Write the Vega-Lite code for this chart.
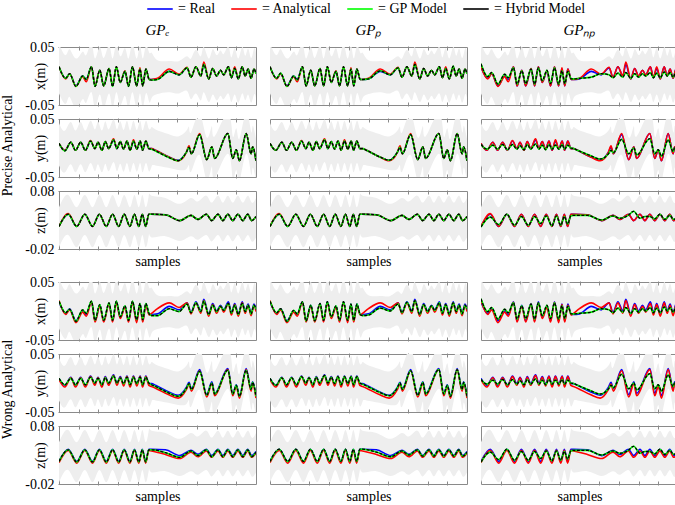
{
"$schema":"https://vega.github.io/schema/vega-lite/v6.json",
"background":"white",
"padding":{"left":0,"top":-5,"right":0,"bottom":0},
"datasets":{
"x":[
{"s":0,"R":0.016,"L":-0.03,"U":0.055,"a":0.016,"b":0.018,"e":0.016,"p":0.016,"q":0.021,"f":0.017,"g":0.017},
{"s":3.4,"R":-0.004,"L":-0.048,"U":0.036,"a":-0.005,"b":-0.006,"e":-0.004,"p":-0.004,"q":-0.001,"f":-0.003,"g":-0.003},
{"s":5.4,"R":0.004,"L":-0.036,"U":0.046,"a":0.004,"b":0.002,"e":0.004,"p":0.005,"q":0.006,"f":0.003,"g":0.004},
{"s":8.6,"R":-0.017,"L":-0.055,"U":0.03,"a":-0.018,"b":-0.02,"e":-0.018,"p":-0.018,"q":-0.014,"f":-0.018,"g":-0.018},
{"s":12,"R":0.0,"L":-0.04,"U":0.042,"a":-0.001,"b":-0.002,"e":0.0,"p":0.0,"q":0.003,"f":0.002,"g":0.001},
{"s":13.8,"R":-0.006,"L":-0.046,"U":0.036,"a":-0.01,"b":-0.009,"e":-0.006,"p":-0.007,"q":-0.003,"f":-0.004,"g":-0.005},
{"s":16.5,"R":0.016,"L":-0.028,"U":0.055,"a":0.016,"b":0.015,"e":0.016,"p":0.016,"q":0.014,"f":0.017,"g":0.016},
{"s":18.3,"R":-0.017,"L":-0.055,"U":0.03,"a":-0.017,"b":-0.019,"e":-0.018,"p":-0.017,"q":-0.014,"f":-0.016,"g":-0.017},
{"s":20.7,"R":0.01,"L":-0.032,"U":0.05,"a":0.01,"b":0.008,"e":0.01,"p":0.01,"q":0.009,"f":0.011,"g":0.01},
{"s":22.7,"R":-0.017,"L":-0.055,"U":0.031,"a":-0.017,"b":-0.019,"e":-0.017,"p":-0.017,"q":-0.013,"f":-0.016,"g":-0.017},
{"s":25.4,"R":0.013,"L":-0.03,"U":0.053,"a":0.013,"b":0.012,"e":0.013,"p":0.013,"q":0.012,"f":0.014,"g":0.013},
{"s":27.2,"R":-0.017,"L":-0.055,"U":0.03,"a":-0.017,"b":-0.019,"e":-0.018,"p":-0.017,"q":-0.014,"f":-0.016,"g":-0.016},
{"s":29.1,"R":0.016,"L":-0.028,"U":0.055,"a":0.016,"b":0.014,"e":0.016,"p":0.016,"q":0.014,"f":0.017,"g":0.016},
{"s":31.1,"R":-0.011,"L":-0.05,"U":0.034,"a":-0.011,"b":-0.013,"e":-0.011,"p":-0.011,"q":-0.008,"f":-0.01,"g":-0.01},
{"s":33.5,"R":0.008,"L":-0.034,"U":0.048,"a":0.009,"b":0.006,"e":0.008,"p":0.008,"q":0.01,"f":0.009,"g":0.009},
{"s":35.3,"R":-0.017,"L":-0.055,"U":0.03,"a":-0.017,"b":-0.019,"e":-0.018,"p":-0.017,"q":-0.013,"f":-0.016,"g":-0.016},
{"s":37.3,"R":0.016,"L":-0.028,"U":0.055,"a":0.016,"b":0.015,"e":0.016,"p":0.016,"q":0.014,"f":0.017,"g":0.016},
{"s":39.4,"R":-0.017,"L":-0.055,"U":0.03,"a":-0.017,"b":-0.02,"e":-0.017,"p":-0.017,"q":-0.014,"f":-0.015,"g":-0.016},
{"s":41.1,"R":0.012,"L":-0.03,"U":0.052,"a":0.014,"b":0.011,"e":0.012,"p":0.012,"q":0.009,"f":0.013,"g":0.012},
{"s":42.5,"R":-0.017,"L":-0.055,"U":0.03,"a":-0.017,"b":-0.019,"e":-0.017,"p":-0.017,"q":-0.013,"f":-0.015,"g":-0.016},
{"s":44.1,"R":0.012,"L":-0.03,"U":0.052,"a":0.012,"b":0.01,"e":0.012,"p":0.012,"q":0.008,"f":0.013,"g":0.012},
{"s":45.8,"R":-0.006,"L":-0.045,"U":0.04,"a":-0.006,"b":-0.007,"e":-0.006,"p":-0.006,"q":-0.005,"f":-0.005,"g":-0.006},
{"s":47,"R":-0.006,"L":-0.038,"U":0.04,"a":-0.006,"b":-0.004,"e":-0.007,"p":-0.006,"q":-0.005,"f":-0.008,"g":-0.008},
{"s":50,"R":-0.005,"L":-0.031,"U":0.027,"a":-0.004,"b":0.004,"e":-0.006,"p":-0.005,"q":-0.004,"f":-0.008,"g":-0.007},
{"s":56,"R":0.008,"L":-0.028,"U":0.026,"a":0.012,"b":0.014,"e":0.008,"p":0.009,"q":-0.002,"f":0.004,"g":0.005},
{"s":61,"R":0.002,"L":-0.03,"U":0.026,"a":0.003,"b":0.006,"e":0.002,"p":0.002,"q":0.004,"f":-0.001,"g":0.0},
{"s":65,"R":0.014,"L":-0.026,"U":0.034,"a":0.015,"b":0.014,"e":0.014,"p":0.014,"q":0.002,"f":0.012,"g":0.012},
{"s":67,"R":-0.002,"L":-0.04,"U":0.03,"a":-0.002,"b":-0.005,"e":-0.002,"p":-0.002,"q":-0.003,"f":-0.003,"g":-0.003},
{"s":69.5,"R":0.016,"L":-0.03,"U":0.045,"a":0.016,"b":0.014,"e":0.016,"p":0.016,"q":0.005,"f":0.014,"g":0.015},
{"s":72,"R":0.0,"L":-0.042,"U":0.034,"a":0.0,"b":-0.004,"e":0.0,"p":0.0,"q":-0.002,"f":-0.001,"g":-0.001},
{"s":73.5,"R":0.02,"L":-0.028,"U":0.05,"a":0.024,"b":0.018,"e":0.02,"p":0.02,"q":0.006,"f":0.017,"g":0.018},
{"s":76,"R":-0.005,"L":-0.045,"U":0.03,"a":-0.005,"b":-0.009,"e":-0.005,"p":-0.005,"q":-0.004,"f":-0.006,"g":-0.006},
{"s":78,"R":0.013,"L":-0.032,"U":0.046,"a":0.013,"b":0.011,"e":0.013,"p":0.013,"q":0.004,"f":0.01,"g":0.011},
{"s":80,"R":0.0,"L":-0.042,"U":0.036,"a":0.0,"b":-0.004,"e":0.0,"p":0.0,"q":-0.002,"f":-0.001,"g":-0.001},
{"s":82,"R":0.01,"L":-0.034,"U":0.044,"a":0.01,"b":0.008,"e":0.01,"p":0.01,"q":0.004,"f":0.008,"g":0.009},
{"s":83.6,"R":0.002,"L":-0.04,"U":0.038,"a":0.002,"b":-0.002,"e":0.002,"p":0.002,"q":0.0,"f":0.001,"g":0.001},
{"s":86,"R":0.016,"L":-0.03,"U":0.05,"a":0.016,"b":0.013,"e":0.016,"p":0.016,"q":0.006,"f":0.013,"g":0.014},
{"s":87.5,"R":-0.003,"L":-0.045,"U":0.032,"a":-0.003,"b":-0.007,"e":-0.003,"p":-0.003,"q":-0.003,"f":-0.004,"g":-0.004},
{"s":89.2,"R":0.013,"L":-0.032,"U":0.048,"a":0.016,"b":0.011,"e":0.013,"p":0.013,"q":0.005,"f":0.01,"g":0.011},
{"s":91,"R":-0.005,"L":-0.046,"U":0.03,"a":-0.005,"b":-0.009,"e":-0.005,"p":-0.005,"q":-0.003,"f":-0.006,"g":-0.006},
{"s":93,"R":0.016,"L":-0.03,"U":0.05,"a":0.016,"b":0.014,"e":0.016,"p":0.017,"q":0.007,"f":0.013,"g":0.014},
{"s":94.5,"R":0.0,"L":-0.042,"U":0.035,"a":0.0,"b":-0.004,"e":0.0,"p":0.0,"q":0.0,"f":-0.001,"g":-0.001},
{"s":96,"R":0.012,"L":-0.032,"U":0.047,"a":0.012,"b":0.01,"e":0.012,"p":0.012,"q":0.006,"f":0.01,"g":0.01},
{"s":97.5,"R":-0.004,"L":-0.046,"U":0.031,"a":-0.004,"b":-0.008,"e":-0.004,"p":-0.004,"q":-0.002,"f":-0.005,"g":-0.005},
{"s":99,"R":0.012,"L":-0.032,"U":0.047,"a":0.012,"b":0.01,"e":0.012,"p":0.012,"q":0.006,"f":0.01,"g":0.01},
{"s":100,"R":0.004,"L":-0.038,"U":0.04,"a":0.004,"b":-0.001,"e":0.004,"p":0.004,"q":0.002,"f":0.003,"g":0.003}
],
"y":[
{"s":0,"R":0.008,"L":-0.03,"U":0.043,"a":0.008,"b":0.006,"e":0.008,"p":0.008,"q":0.006,"f":0.008,"g":0.008},
{"s":3,"R":-0.004,"L":-0.042,"U":0.03,"a":-0.004,"b":-0.007,"e":-0.005,"p":-0.004,"q":-0.002,"f":-0.003,"g":-0.004},
{"s":6,"R":0.01,"L":-0.028,"U":0.045,"a":0.01,"b":0.009,"e":0.01,"p":0.01,"q":0.005,"f":0.008,"g":0.009},
{"s":8.4,"R":-0.004,"L":-0.042,"U":0.03,"a":-0.004,"b":-0.007,"e":-0.004,"p":-0.004,"q":-0.002,"f":-0.003,"g":-0.003},
{"s":11,"R":0.01,"L":-0.028,"U":0.045,"a":0.01,"b":0.009,"e":0.01,"p":0.01,"q":0.006,"f":0.008,"g":0.009},
{"s":13.4,"R":-0.004,"L":-0.042,"U":0.03,"a":-0.004,"b":-0.007,"e":-0.004,"p":-0.004,"q":-0.003,"f":-0.003,"g":-0.003},
{"s":16,"R":0.012,"L":-0.026,"U":0.047,"a":0.013,"b":0.011,"e":0.012,"p":0.012,"q":0.006,"f":0.01,"g":0.011},
{"s":18.2,"R":-0.001,"L":-0.04,"U":0.032,"a":-0.001,"b":-0.004,"e":-0.001,"p":-0.001,"q":-0.002,"f":0.0,"g":0.0},
{"s":19.8,"R":0.01,"L":-0.028,"U":0.045,"a":0.01,"b":0.009,"e":0.01,"p":0.01,"q":0.004,"f":0.008,"g":0.009},
{"s":21.8,"R":-0.004,"L":-0.042,"U":0.03,"a":-0.004,"b":-0.007,"e":-0.004,"p":-0.004,"q":-0.003,"f":-0.003,"g":-0.003},
{"s":23.5,"R":0.011,"L":-0.027,"U":0.046,"a":0.011,"b":0.01,"e":0.011,"p":0.011,"q":0.006,"f":0.009,"g":0.01},
{"s":25.2,"R":-0.001,"L":-0.04,"U":0.032,"a":-0.001,"b":-0.004,"e":-0.001,"p":-0.001,"q":-0.002,"f":0.0,"g":0.0},
{"s":27.7,"R":0.014,"L":-0.024,"U":0.049,"a":0.016,"b":0.013,"e":0.014,"p":0.014,"q":0.007,"f":0.012,"g":0.013},
{"s":29.4,"R":-0.001,"L":-0.04,"U":0.032,"a":-0.001,"b":-0.004,"e":-0.001,"p":-0.001,"q":-0.002,"f":0.0,"g":0.0},
{"s":31.1,"R":0.011,"L":-0.027,"U":0.046,"a":0.011,"b":0.01,"e":0.011,"p":0.011,"q":0.005,"f":0.009,"g":0.01},
{"s":32.8,"R":-0.002,"L":-0.041,"U":0.031,"a":-0.002,"b":-0.005,"e":-0.002,"p":-0.002,"q":-0.003,"f":-0.001,"g":-0.001},
{"s":34.5,"R":0.012,"L":-0.026,"U":0.047,"a":0.012,"b":0.011,"e":0.012,"p":0.012,"q":0.006,"f":0.01,"g":0.011},
{"s":36.1,"R":-0.004,"L":-0.042,"U":0.03,"a":-0.004,"b":-0.007,"e":-0.004,"p":-0.004,"q":-0.002,"f":-0.003,"g":-0.003},
{"s":37.8,"R":0.012,"L":-0.026,"U":0.047,"a":0.014,"b":0.011,"e":0.012,"p":0.012,"q":0.005,"f":0.01,"g":0.011},
{"s":39.5,"R":-0.002,"L":-0.041,"U":0.031,"a":-0.002,"b":-0.005,"e":-0.002,"p":-0.002,"q":-0.002,"f":-0.001,"g":-0.001},
{"s":41.2,"R":0.012,"L":-0.026,"U":0.047,"a":0.012,"b":0.011,"e":0.012,"p":0.012,"q":0.006,"f":0.01,"g":0.011},
{"s":42.4,"R":-0.004,"L":-0.042,"U":0.03,"a":-0.004,"b":-0.007,"e":-0.004,"p":-0.004,"q":-0.002,"f":-0.003,"g":-0.003},
{"s":44.1,"R":0.012,"L":-0.026,"U":0.047,"a":0.012,"b":0.011,"e":0.012,"p":0.012,"q":0.005,"f":0.01,"g":0.011},
{"s":45.6,"R":-0.001,"L":-0.04,"U":0.033,"a":-0.001,"b":-0.004,"e":-0.001,"p":-0.001,"q":0.0,"f":0.0,"g":0.0},
{"s":47,"R":-0.001,"L":-0.032,"U":0.036,"a":-0.001,"b":-0.006,"e":-0.002,"p":-0.001,"q":-0.001,"f":-0.003,"g":-0.002},
{"s":49,"R":-0.004,"L":-0.03,"U":0.032,"a":-0.004,"b":-0.009,"e":-0.005,"p":-0.004,"q":-0.004,"f":-0.006,"g":-0.005},
{"s":55.5,"R":-0.015,"L":-0.034,"U":0.024,"a":-0.015,"b":-0.02,"e":-0.016,"p":-0.015,"q":-0.013,"f":-0.017,"g":-0.016},
{"s":60.5,"R":-0.021,"L":-0.038,"U":0.02,"a":-0.022,"b":-0.026,"e":-0.022,"p":-0.021,"q":-0.019,"f":-0.023,"g":-0.022},
{"s":64.7,"R":-0.007,"L":-0.036,"U":0.03,"a":-0.007,"b":-0.011,"e":-0.007,"p":-0.007,"q":-0.01,"f":-0.009,"g":-0.008},
{"s":66,"R":0.001,"L":-0.03,"U":0.036,"a":0.004,"b":-0.002,"e":0.001,"p":0.001,"q":-0.004,"f":-0.001,"g":0.0},
{"s":67.2,"R":-0.01,"L":-0.04,"U":0.028,"a":-0.01,"b":-0.014,"e":-0.01,"p":-0.01,"q":-0.008,"f":-0.011,"g":-0.011},
{"s":71.4,"R":0.023,"L":-0.012,"U":0.058,"a":0.025,"b":0.021,"e":0.023,"p":0.023,"q":0.015,"f":0.02,"g":0.021},
{"s":75,"R":-0.02,"L":-0.055,"U":0.018,"a":-0.02,"b":-0.024,"e":-0.02,"p":-0.02,"q":-0.01,"f":-0.021,"g":-0.021},
{"s":77.6,"R":0.002,"L":-0.032,"U":0.038,"a":0.002,"b":-0.001,"e":0.002,"p":0.002,"q":0.0,"f":0.0,"g":0.001},
{"s":79,"R":-0.018,"L":-0.052,"U":0.02,"a":-0.018,"b":-0.022,"e":-0.018,"p":-0.018,"q":-0.012,"f":-0.019,"g":-0.019},
{"s":85.7,"R":0.025,"L":-0.01,"U":0.06,"a":0.025,"b":0.023,"e":0.025,"p":0.025,"q":0.016,"f":0.022,"g":0.023},
{"s":88.2,"R":-0.018,"L":-0.053,"U":0.02,"a":-0.018,"b":-0.022,"e":-0.018,"p":-0.018,"q":-0.01,"f":-0.019,"g":-0.019},
{"s":90,"R":-0.003,"L":-0.038,"U":0.034,"a":-0.003,"b":-0.006,"e":-0.003,"p":-0.003,"q":-0.003,"f":-0.004,"g":-0.004},
{"s":91.6,"R":-0.022,"L":-0.057,"U":0.016,"a":-0.022,"b":-0.026,"e":-0.022,"p":-0.022,"q":-0.014,"f":-0.023,"g":-0.023},
{"s":95,"R":0.025,"L":-0.01,"U":0.06,"a":0.025,"b":0.023,"e":0.025,"p":0.025,"q":0.014,"f":0.022,"g":0.023},
{"s":97.5,"R":-0.01,"L":-0.045,"U":0.028,"a":-0.01,"b":-0.014,"e":-0.01,"p":-0.01,"q":-0.006,"f":-0.011,"g":-0.011},
{"s":98.3,"R":0.002,"L":-0.034,"U":0.038,"a":0.002,"b":-0.001,"e":0.002,"p":0.002,"q":0.0,"f":0.001,"g":0.001},
{"s":100,"R":-0.022,"L":-0.057,"U":0.016,"a":-0.022,"b":-0.026,"e":-0.022,"p":-0.022,"q":-0.015,"f":-0.023,"g":-0.023}
],
"z":[
{"s":0,"R":0.019,"L":-0.017,"U":0.052,"a":0.019,"b":0.017,"e":0.019,"p":0.019,"q":0.018,"f":0.019,"g":0.019},
{"s":4.7,"R":0.04,"L":0.004,"U":0.073,"a":0.041,"b":0.038,"e":0.04,"p":0.04,"q":0.035,"f":0.039,"g":0.04},
{"s":9,"R":0.019,"L":-0.017,"U":0.052,"a":0.019,"b":0.016,"e":0.019,"p":0.019,"q":0.022,"f":0.018,"g":0.019},
{"s":13.1,"R":0.04,"L":0.004,"U":0.073,"a":0.04,"b":0.038,"e":0.04,"p":0.04,"q":0.04,"f":0.039,"g":0.04},
{"s":17,"R":0.019,"L":-0.017,"U":0.052,"a":0.019,"b":0.016,"e":0.019,"p":0.019,"q":0.021,"f":0.018,"g":0.019},
{"s":20.5,"R":0.04,"L":0.004,"U":0.073,"a":0.04,"b":0.038,"e":0.04,"p":0.04,"q":0.036,"f":0.039,"g":0.04},
{"s":24,"R":0.019,"L":-0.017,"U":0.052,"a":0.019,"b":0.016,"e":0.019,"p":0.019,"q":0.021,"f":0.018,"g":0.019},
{"s":27.2,"R":0.04,"L":0.004,"U":0.073,"a":0.04,"b":0.038,"e":0.04,"p":0.04,"q":0.036,"f":0.039,"g":0.04},
{"s":30.3,"R":0.019,"L":-0.017,"U":0.052,"a":0.019,"b":0.016,"e":0.019,"p":0.019,"q":0.024,"f":0.018,"g":0.019},
{"s":33.1,"R":0.04,"L":0.004,"U":0.073,"a":0.04,"b":0.038,"e":0.04,"p":0.04,"q":0.037,"f":0.039,"g":0.04},
{"s":36,"R":0.019,"L":-0.017,"U":0.052,"a":0.019,"b":0.016,"e":0.019,"p":0.019,"q":0.02,"f":0.018,"g":0.019},
{"s":38.3,"R":0.04,"L":0.004,"U":0.073,"a":0.04,"b":0.038,"e":0.04,"p":0.04,"q":0.037,"f":0.039,"g":0.04},
{"s":40.5,"R":0.019,"L":-0.017,"U":0.052,"a":0.019,"b":0.016,"e":0.019,"p":0.019,"q":0.021,"f":0.018,"g":0.019},
{"s":42.3,"R":0.04,"L":0.004,"U":0.073,"a":0.04,"b":0.038,"e":0.04,"p":0.04,"q":0.036,"f":0.039,"g":0.04},
{"s":44,"R":0.019,"L":-0.017,"U":0.052,"a":0.019,"b":0.016,"e":0.019,"p":0.019,"q":0.023,"f":0.018,"g":0.019},
{"s":45.6,"R":0.04,"L":0.004,"U":0.073,"a":0.04,"b":0.038,"e":0.04,"p":0.04,"q":0.037,"f":0.039,"g":0.04},
{"s":47,"R":0.04,"L":0.0,"U":0.072,"a":0.04,"b":0.037,"e":0.04,"p":0.04,"q":0.038,"f":0.039,"g":0.04},
{"s":54,"R":0.039,"L":0.002,"U":0.068,"a":0.039,"b":0.031,"e":0.039,"p":0.039,"q":0.038,"f":0.034,"g":0.035},
{"s":61.3,"R":0.029,"L":-0.006,"U":0.058,"a":0.029,"b":0.024,"e":0.029,"p":0.029,"q":0.03,"f":0.026,"g":0.027},
{"s":67,"R":0.038,"L":0.002,"U":0.068,"a":0.038,"b":0.035,"e":0.038,"p":0.038,"q":0.037,"f":0.037,"g":0.037},
{"s":70.5,"R":0.031,"L":-0.004,"U":0.062,"a":0.031,"b":0.027,"e":0.031,"p":0.031,"q":0.033,"f":0.029,"g":0.03},
{"s":74.8,"R":0.04,"L":0.004,"U":0.072,"a":0.04,"b":0.037,"e":0.04,"p":0.04,"q":0.038,"f":0.039,"g":0.039},
{"s":77.5,"R":0.029,"L":-0.007,"U":0.06,"a":0.029,"b":0.026,"e":0.029,"p":0.029,"q":0.045,"f":0.027,"g":0.028},
{"s":80.7,"R":0.04,"L":0.004,"U":0.072,"a":0.04,"b":0.037,"e":0.04,"p":0.04,"q":0.033,"f":0.039,"g":0.039},
{"s":83.2,"R":0.029,"L":-0.007,"U":0.06,"a":0.029,"b":0.026,"e":0.029,"p":0.029,"q":0.036,"f":0.027,"g":0.028},
{"s":85.7,"R":0.04,"L":0.004,"U":0.072,"a":0.04,"b":0.037,"e":0.04,"p":0.04,"q":0.036,"f":0.039,"g":0.039},
{"s":88.2,"R":0.029,"L":-0.007,"U":0.06,"a":0.029,"b":0.026,"e":0.029,"p":0.029,"q":0.032,"f":0.027,"g":0.028},
{"s":90.8,"R":0.04,"L":0.004,"U":0.072,"a":0.04,"b":0.037,"e":0.04,"p":0.04,"q":0.04,"f":0.039,"g":0.039},
{"s":93.3,"R":0.029,"L":-0.007,"U":0.06,"a":0.029,"b":0.026,"e":0.029,"p":0.029,"q":0.031,"f":0.027,"g":0.028},
{"s":95.8,"R":0.04,"L":0.004,"U":0.072,"a":0.04,"b":0.037,"e":0.04,"p":0.04,"q":0.038,"f":0.039,"g":0.039},
{"s":97.8,"R":0.029,"L":-0.007,"U":0.06,"a":0.029,"b":0.026,"e":0.029,"p":0.029,"q":0.031,"f":0.027,"g":0.028},
{"s":100,"R":0.036,"L":0.0,"U":0.068,"a":0.036,"b":0.033,"e":0.036,"p":0.036,"q":0.036,"f":0.035,"g":0.035}
]
},
"config":{
"font":"Liberation Serif",
"view":{"stroke":"#8a8a8a","strokeWidth":1},
"axis":{"domain":false,"grid":false,"tickSize":-4,"tickColor":"#8a8a8a","labelFont":"Liberation Serif","labelFontSize":14,"labelColor":"black","titleFont":"Liberation Serif","titleFontSize":14,"titleFontWeight":"normal","titleColor":"black","labelPadding":8,"titlePadding":4},
"axisY":{"titleX":-18,"titleY":29,"titleBaseline":"middle","titleAngle":-90},
"header":{"labelFont":"Liberation Serif","labelFontSize":15,"labelFontStyle":"italic","labelColor":"black","labelPadding":8},
"title":{"font":"Liberation Serif","fontSize":14,"fontWeight":"normal","color":"black"},
"line":{"strokeWidth":1.6,"interpolate":"monotone"},
"area":{"interpolate":"natural"}
},
"spacing":6,
"vconcat":[
{"title":{"text":"Precise Analytical","orient":"left","anchor":"middle","offset":10},
"spacing":0,
"vconcat":[
{"data":{"name":"x"},"transform":[{"fold":["e","p","q"],"as":["c","M"]}],"spacing":12,
"facet":{"column":{"field":"c","type":"nominal","sort":["e","p","q"],"header":{"title":null,"labelExpr":"datum.value == 'e' ? 'GPₑ' : datum.value == 'p' ? 'GPₚ' : 'GPₙₚ'"}}},
"spec":{"width":197,"height":58,"resolve":{"axis":{"x":"independent"}},
"encoding":{"x":{"field":"s","type":"quantitative","scale":{"domain":[0,100],"nice":false},"axis":{"title":null,"labels":false,"values":[10,20,30,40,50,60,70,80,90]}}},
"layer":[
{"mark":{"type":"area","color":"#eeeeee","clip":true},"encoding":{"y":{"field":"L","type":"quantitative","scale":{"domain":[-0.05,0.05],"nice":false},"axis":{"title":"x(m)","values":[-0.05,0,0.05],"labelExpr":"datum.value > 0.01 ? '0.05' : datum.value < -0.01 ? '-0.05' : ''"}},"y2":{"field":"U"}}},
{"mark":{"type":"line","clip":true},"encoding":{"x":{"field":"s","type":"quantitative","axis":{"orient":"top","title":null,"labels":false,"values":[10,20,30,40,50,60,70,80,90]}},"y":{"field":"R","type":"quantitative"},"color":{"datum":"Real","scale":{"domain":["Real","Analytical","GP Model","Hybrid Model"],"range":["#0000ff","#ff0000","#00ff00","#000000"]},"legend":{"orient":"none","legendX":87,"legendY":-52,"direction":"horizontal","title":null,"symbolType":"stroke","symbolSize":650,"symbolStrokeWidth":3,"labelExpr":"'= ' + datum.label","labelFont":"Liberation Serif","labelFontSize":14,"labelColor":"black","columnPadding":12,"labelOffset":4,"encode":{"symbols":{"update":{"strokeDash":{"signal":"datum.value == 'Hybrid Model' ? [4,2] : [1,0]"}}}}}}}},
{"mark":{"type":"line","clip":true},"encoding":{"x":{"field":"s","type":"quantitative","axis":null},"y":{"field":"a","type":"quantitative"},"color":{"datum":"Analytical"}}},
{"mark":{"type":"line","clip":true},"encoding":{"x":{"field":"s","type":"quantitative","axis":null},"y":{"field":"M","type":"quantitative"},"color":{"datum":"GP Model"}}},
{"mark":{"type":"line","clip":true,"strokeDash":[3,1.5],"strokeWidth":1.3},"encoding":{"x":{"field":"s","type":"quantitative","axis":null},"y":{"field":"M","type":"quantitative"},"color":{"datum":"Hybrid Model"}}}
]}},
{"data":{"name":"y"},"transform":[{"fold":["e","p","q"],"as":["c","M"]}],"spacing":12,
"facet":{"column":{"field":"c","type":"nominal","sort":["e","p","q"],"header":{"labels":false,"title":null}}},
"spec":{"width":197,"height":58,"resolve":{"axis":{"x":"independent"}},
"encoding":{"x":{"field":"s","type":"quantitative","scale":{"domain":[0,100],"nice":false},"axis":{"title":null,"labels":false,"values":[10,20,30,40,50,60,70,80,90]}}},
"layer":[
{"mark":{"type":"area","color":"#eeeeee","clip":true},"encoding":{"y":{"field":"L","type":"quantitative","scale":{"domain":[-0.05,0.05],"nice":false},"axis":{"title":"y(m)","values":[-0.05,0,0.05],"labelExpr":"datum.value > 0.01 ? '0.05' : datum.value < -0.01 ? '-0.05' : ''"}},"y2":{"field":"U"}}},
{"mark":{"type":"line","clip":true,"color":"#0000ff"},"encoding":{"x":{"field":"s","type":"quantitative","axis":{"orient":"top","title":null,"labels":false,"values":[10,20,30,40,50,60,70,80,90]}},"y":{"field":"R","type":"quantitative"}}},
{"mark":{"type":"line","clip":true,"color":"#ff0000"},"encoding":{"x":{"field":"s","type":"quantitative","axis":null},"y":{"field":"a","type":"quantitative"}}},
{"mark":{"type":"line","clip":true,"color":"#00ff00"},"encoding":{"x":{"field":"s","type":"quantitative","axis":null},"y":{"field":"M","type":"quantitative"}}},
{"mark":{"type":"line","clip":true,"color":"#000000","strokeDash":[3,1.5],"strokeWidth":1.3},"encoding":{"x":{"field":"s","type":"quantitative","axis":null},"y":{"field":"M","type":"quantitative"}}}
]}},
{"data":{"name":"z"},"transform":[{"fold":["e","p","q"],"as":["c","M"]}],"spacing":12,
"facet":{"column":{"field":"c","type":"nominal","sort":["e","p","q"],"header":{"labels":false,"title":null}}},
"spec":{"width":197,"height":58,"resolve":{"axis":{"x":"independent"}},
"encoding":{"x":{"field":"s","type":"quantitative","scale":{"domain":[0,100],"nice":false},"axis":{"title":"samples","labels":false,"values":[10,20,30,40,50,60,70,80,90]}}},
"layer":[
{"mark":{"type":"area","color":"#eeeeee","clip":true},"encoding":{"y":{"field":"L","type":"quantitative","scale":{"domain":[-0.02,0.08],"nice":false},"axis":{"title":"z(m)","values":[-0.02,0,0.02,0.04,0.06,0.08],"labelExpr":"datum.value > 0.07 ? '0.08' : datum.value < -0.01 ? '-0.02' : ''"}},"y2":{"field":"U"}}},
{"mark":{"type":"line","clip":true,"color":"#0000ff"},"encoding":{"x":{"field":"s","type":"quantitative","axis":{"orient":"top","title":null,"labels":false,"values":[10,20,30,40,50,60,70,80,90]}},"y":{"field":"R","type":"quantitative"}}},
{"mark":{"type":"line","clip":true,"color":"#ff0000"},"encoding":{"x":{"field":"s","type":"quantitative","axis":null},"y":{"field":"a","type":"quantitative"}}},
{"mark":{"type":"line","clip":true,"color":"#00ff00"},"encoding":{"x":{"field":"s","type":"quantitative","axis":null},"y":{"field":"M","type":"quantitative"}}},
{"mark":{"type":"line","clip":true,"color":"#000000","strokeDash":[3,1.5],"strokeWidth":1.3},"encoding":{"x":{"field":"s","type":"quantitative","axis":null},"y":{"field":"M","type":"quantitative"}}}
]}}
]},
{"title":{"text":"Wrong Analytical","orient":"left","anchor":"middle","offset":10},
"spacing":0,
"vconcat":[
{"data":{"name":"x"},"transform":[{"fold":["f","g","q"],"as":["c","M"]}],"spacing":12,
"facet":{"column":{"field":"c","type":"nominal","sort":["f","g","q"],"header":{"labels":false,"title":null}}},
"spec":{"width":197,"height":58,"resolve":{"axis":{"x":"independent"}},
"encoding":{"x":{"field":"s","type":"quantitative","scale":{"domain":[0,100],"nice":false},"axis":{"title":null,"labels":false,"values":[10,20,30,40,50,60,70,80,90]}}},
"layer":[
{"mark":{"type":"area","color":"#eeeeee","clip":true},"encoding":{"y":{"field":"L","type":"quantitative","scale":{"domain":[-0.05,0.05],"nice":false},"axis":{"title":"x(m)","values":[-0.05,0,0.05],"labelExpr":"datum.value > 0.01 ? '0.05' : datum.value < -0.01 ? '-0.05' : ''"}},"y2":{"field":"U"}}},
{"mark":{"type":"line","clip":true,"color":"#0000ff"},"encoding":{"x":{"field":"s","type":"quantitative","axis":{"orient":"top","title":null,"labels":false,"values":[10,20,30,40,50,60,70,80,90]}},"y":{"field":"R","type":"quantitative"}}},
{"mark":{"type":"line","clip":true,"color":"#ff0000"},"encoding":{"x":{"field":"s","type":"quantitative","axis":null},"y":{"field":"b","type":"quantitative"}}},
{"mark":{"type":"line","clip":true,"color":"#00ff00"},"encoding":{"x":{"field":"s","type":"quantitative","axis":null},"y":{"field":"M","type":"quantitative"}}},
{"mark":{"type":"line","clip":true,"color":"#000000","strokeDash":[3,1.5],"strokeWidth":1.3},"encoding":{"x":{"field":"s","type":"quantitative","axis":null},"y":{"field":"M","type":"quantitative"}}}
]}},
{"data":{"name":"y"},"transform":[{"fold":["f","g","q"],"as":["c","M"]}],"spacing":12,
"facet":{"column":{"field":"c","type":"nominal","sort":["f","g","q"],"header":{"labels":false,"title":null}}},
"spec":{"width":197,"height":58,"resolve":{"axis":{"x":"independent"}},
"encoding":{"x":{"field":"s","type":"quantitative","scale":{"domain":[0,100],"nice":false},"axis":{"title":null,"labels":false,"values":[10,20,30,40,50,60,70,80,90]}}},
"layer":[
{"mark":{"type":"area","color":"#eeeeee","clip":true},"encoding":{"y":{"field":"L","type":"quantitative","scale":{"domain":[-0.05,0.05],"nice":false},"axis":{"title":"y(m)","values":[-0.05,0,0.05],"labelExpr":"datum.value > 0.01 ? '0.05' : datum.value < -0.01 ? '-0.05' : ''"}},"y2":{"field":"U"}}},
{"mark":{"type":"line","clip":true,"color":"#0000ff"},"encoding":{"x":{"field":"s","type":"quantitative","axis":{"orient":"top","title":null,"labels":false,"values":[10,20,30,40,50,60,70,80,90]}},"y":{"field":"R","type":"quantitative"}}},
{"mark":{"type":"line","clip":true,"color":"#ff0000"},"encoding":{"x":{"field":"s","type":"quantitative","axis":null},"y":{"field":"b","type":"quantitative"}}},
{"mark":{"type":"line","clip":true,"color":"#00ff00"},"encoding":{"x":{"field":"s","type":"quantitative","axis":null},"y":{"field":"M","type":"quantitative"}}},
{"mark":{"type":"line","clip":true,"color":"#000000","strokeDash":[3,1.5],"strokeWidth":1.3},"encoding":{"x":{"field":"s","type":"quantitative","axis":null},"y":{"field":"M","type":"quantitative"}}}
]}},
{"data":{"name":"z"},"transform":[{"fold":["f","g","q"],"as":["c","M"]}],"spacing":12,
"facet":{"column":{"field":"c","type":"nominal","sort":["f","g","q"],"header":{"labels":false,"title":null}}},
"spec":{"width":197,"height":58,"resolve":{"axis":{"x":"independent"}},
"encoding":{"x":{"field":"s","type":"quantitative","scale":{"domain":[0,100],"nice":false},"axis":{"title":"samples","labels":false,"values":[10,20,30,40,50,60,70,80,90]}}},
"layer":[
{"mark":{"type":"area","color":"#eeeeee","clip":true},"encoding":{"y":{"field":"L","type":"quantitative","scale":{"domain":[-0.02,0.08],"nice":false},"axis":{"title":"z(m)","values":[-0.02,0,0.02,0.04,0.06,0.08],"labelExpr":"datum.value > 0.07 ? '0.08' : datum.value < -0.01 ? '-0.02' : ''"}},"y2":{"field":"U"}}},
{"mark":{"type":"line","clip":true,"color":"#0000ff"},"encoding":{"x":{"field":"s","type":"quantitative","axis":{"orient":"top","title":null,"labels":false,"values":[10,20,30,40,50,60,70,80,90]}},"y":{"field":"R","type":"quantitative"}}},
{"mark":{"type":"line","clip":true,"color":"#ff0000"},"encoding":{"x":{"field":"s","type":"quantitative","axis":null},"y":{"field":"b","type":"quantitative"}}},
{"mark":{"type":"line","clip":true,"color":"#00ff00"},"encoding":{"x":{"field":"s","type":"quantitative","axis":null},"y":{"field":"M","type":"quantitative"}}},
{"mark":{"type":"line","clip":true,"color":"#000000","strokeDash":[3,1.5],"strokeWidth":1.3},"encoding":{"x":{"field":"s","type":"quantitative","axis":null},"y":{"field":"M","type":"quantitative"}}}
]}}
]}
]
}
